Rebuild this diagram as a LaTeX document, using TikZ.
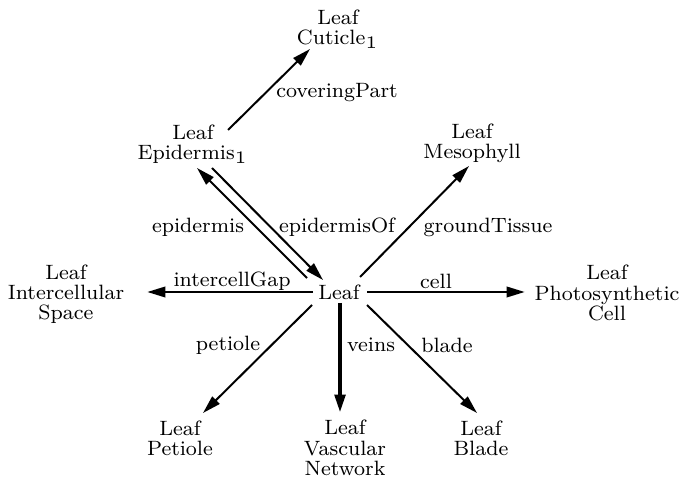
\documentclass[tikz,border=0pt]{standalone}
\usepackage{fontspec}
\usetikzlibrary{arrows.meta}
% optical size 8 of Latin Modern, set smaller for the labels
\newfontfamily\lmeight{lmroman8-regular}[Extension=.otf]
\begin{document}
\begin{tikzpicture}[x=0.2846pt,y=-0.2846pt,
  every node/.style={font=\lmeight\fontsize{5.9}{5.75}\selectfont, inner sep=0pt, align=center},
  concept/.style={},
  rel/.style={},
  link/.style={line width=0.57pt, -{Triangle[length=5.2pt,width=2.9pt]}},
  flat/.style={line width=0.8pt, -{Triangle[length=5.2pt,width=2.9pt]}},
  heavy/.style={line width=1.2pt, -{Triangle[length=5.2pt,width=2.9pt]}},
]
\useasboundingbox (0,0) rectangle (684,481);

% concepts
\node[concept] (leaf)  at (339,292) {Leaf};
\node[concept] (cut)   at (338,29)  {Leaf\\Cuticle$_1$};
\node[concept] (epi)   at (193,144) {Leaf\\Epidermis$_1$};
\node[concept] (meso)  at (472,143) {Leaf\\Mesophyll};
\node[concept] (inter) at (66,294)  {Leaf\\Intercellular\\Space};
\node[concept] (photo) at (607,293) {Leaf\\Photosynthetic\\Cell};
\node[concept] (pet)   at (180,438) {Leaf\\Petiole};
\node[concept] (vasc)  at (345,448) {Leaf\\Vascular\\Network};
\node[concept] (blade) at (481,438) {Leaf\\Blade};

% relations
\draw[link]  ([shift={(35,-14)}]epi.center)   -- ([shift={(-28,20)}]cut.center);
\draw[link]  ([shift={(-32,-14)}]leaf.center) -- ([shift={(4,24)}]epi.center);
\draw[link]  ([shift={(19,24)}]epi.center)    -- ([shift={(-16,-12)}]leaf.center);
\draw[link]  ([shift={(21,-15)}]leaf.center)  -- ([shift={(-3,23)}]meso.center);
\draw[flat]  ([shift={(-26,0)}]leaf.center)   -- ([shift={(81,-2)}]inter.center);
\draw[flat]  ([shift={(28,0)}]leaf.center)    -- ([shift={(-82,-1)}]photo.center);
\draw[link]  ([shift={(-27,13)}]leaf.center)  -- ([shift={(23,-25)}]pet.center);
\draw[heavy] ([shift={(1,11)}]leaf.center)    -- ([shift={(-5,-35)}]vasc.center);
\draw[link]  ([shift={(28,13)}]leaf.center)   -- ([shift={(-4,-25)}]blade.center);

% relation labels
\node[rel] (lcov)   at (337,93)  {coveringPart};
\node[rel] (lepi)   at (198,227) {epidermis};
\node[rel] (lepiof) at (337,227) {epidermisOf};
\node[rel] (lgrd)   at (488,227) {groundTissue};
\node[rel] (lgap)   at (232,281) {intercellGap};
\node[rel] (lcell)  at (436,281) {cell};
\node[rel] (lpet)   at (228,345) {petiole};
\node[rel] (lvein)  at (371,345) {veins};
\node[rel] (lblade) at (447,345) {blade};
\end{tikzpicture}
\end{document}
